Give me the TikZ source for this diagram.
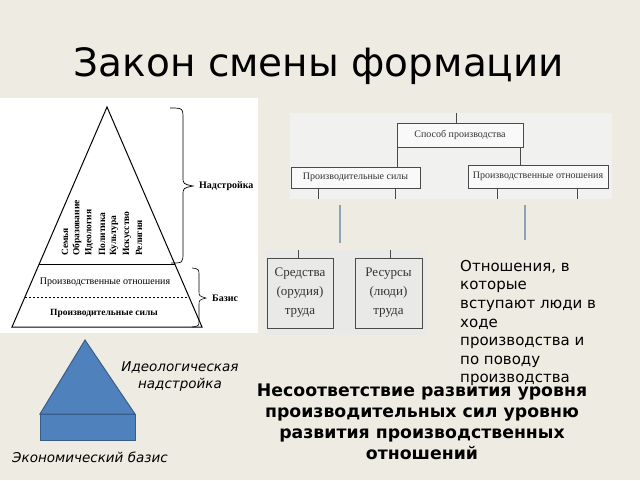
\documentclass[tikz,border=0pt]{standalone}
\usepackage{fontspec}
\setmainfont{DejaVu Sans}
\newfontfamily\scanfont{Liberation Serif}
\usetikzlibrary{calc}
\definecolor{bg}{HTML}{EDEBE2}
\definecolor{scanbg}{HTML}{F1F1F0}
\definecolor{scanbgb}{HTML}{E9E9E8}
\definecolor{scanline}{HTML}{4A4A4A}
\definecolor{steel}{HTML}{8EA4B6}
\definecolor{blfill}{HTML}{4F81BD}
\definecolor{bldraw}{HTML}{385D8A}
\tikzset{
  pyr/.style={draw=black, line width=1pt},
  scanbox/.style={draw=scanline, line width=0.9pt, fill=white!60!scanbg, inner sep=0pt, font=\scanfont\fontsize{10}{11}\selectfont, text=black!80},
  scanbox2/.style={draw=scanline, line width=1pt, inner sep=0pt, align=center, font=\scanfont\fontsize{13}{19}\selectfont, text=black!80},
  vword/.style={rotate=90, anchor=west, inner sep=0pt, font=\scanfont\bfseries\fontsize{9.5}{10}\selectfont},
  scantext/.style={inner sep=0pt, font=\scanfont\fontsize{10}{11}\selectfont},
  conn/.style={draw=scanline, line width=0.8pt},
  steelline/.style={draw=steel, line width=1.6pt},
  body/.style={inner sep=0pt, font=\fontsize{15}{18.6}\selectfont},
  ital/.style={inner sep=0pt, font=\itshape\fontsize{13.5}{17}\selectfont}
}
\begin{document}
\begin{tikzpicture}[x=1pt,y=-1pt]
\path[use as bounding box, fill=bg] (0,0) rectangle (640,480);

% title
\node[anchor=base, inner sep=0pt, font=\fontsize{39}{47}\selectfont] (title) at (319,76) {Закон смены формации};

% ---- left scanned pyramid ----
\fill[white] (0,98) rectangle (258,333);
\coordinate (apex) at (107,107);
\coordinate (bl) at (12,327);
\coordinate (br) at (202,327);
\draw[pyr] (apex) -- (bl) -- (br) -- cycle;
\coordinate (hl) at ($(apex)!0.718!(bl)$);
\coordinate (hr) at ($(apex)!0.718!(br)$);
\draw[pyr] (hl) -- (hr);
\coordinate (dl) at ($(apex)!0.8636!(bl)$);
\coordinate (dr) at ($(apex)!0.8636!(br)$);
\draw[black, line width=0.8pt, dash pattern=on 2.5pt off 1.5pt] (dl) -- (dr);
\node[vword] (w1) at (65,256) {Семья};
\node[vword] (w2) at (77,256) {Образование};
\node[vword] (w3) at (89,256) {Идеология};
\node[vword] (w4) at (102,256) {Политика};
\node[vword] (w5) at (114,256) {Культура};
\node[vword] (w6) at (127,256) {Искусство};
\node[vword] (w7) at (139,256) {Религия};
\node[scantext] (pot) at (105,282) {Производственные отношения};
\node[scantext, font=\scanfont\bfseries\fontsize{9.5}{11}\selectfont] (ps) at (104,313) {Производительные силы};
% braces
\draw[black, line width=0.7pt] (170,108) .. controls (183,108) .. (183,120) -- (183,176)
  .. controls (183,184) .. (193,186) .. controls (183,188) .. (183,196) -- (183,252)
  .. controls (183,263) .. (171,263);
\draw[black, line width=0.6pt] (192,268) .. controls (199,269) .. (199,276) -- (199,291)
  .. controls (199,296) .. (206,298) .. controls (199,300) .. (199,305) -- (199,320)
  .. controls (199,326) .. (192,327);
\node[scantext, font=\scanfont\bfseries\fontsize{10}{11}\selectfont, anchor=west] (nad) at (199,186) {Надстройка};
\node[scantext, font=\scanfont\bfseries\fontsize{10}{11}\selectfont, anchor=west] (baz) at (212,298) {Базис};

% ---- top-right scanned scheme ----
\fill[scanbg] (290,113) rectangle (612,199);
\node[scanbox, minimum width=126pt, minimum height=24pt] (sposob) at (460,135) {Способ производства};
\node[scanbox, minimum width=129pt, minimum height=21pt] (psily) at (355.5,177.5) {Производительные силы};
\node[scanbox, minimum width=140pt, minimum height=23pt] (potn) at (538,176.5) {Производственные отношения};
\coordinate (topend) at (456,113);
\draw[conn] (topend) -- (topend |- sposob.north);
\draw[conn] (sposob.south west) ++(1,0) coordinate (sl) -- (sl |- psily.north);
\draw[conn] (sposob.south east) ++(-3,0) coordinate (sr) -- (sr |- potn.north);
\coordinate (b1) at (318,199);
\coordinate (b2) at (395,199);
\coordinate (b3) at (497,199);
\coordinate (b4) at (577,199);
\draw[conn] (b1) -- (b1 |- psily.south);
\draw[conn] (b2) -- (b2 |- psily.south);
\draw[conn] (b3) -- (b3 |- potn.south);
\draw[conn] (b4) -- (b4 |- potn.south);

% steel connector lines
\coordinate (g1t) at (340,205);
\coordinate (g1b) at (340,243);
\coordinate (g2t) at (525,205);
\coordinate (g2b) at (525,240);
\draw[steelline] (g1t) -- (g1b);
\draw[steelline] (g2t) -- (g2b);

% ---- second scanned image ----
\fill[scanbgb] (265,250) rectangle (425,335);
\node[scanbox2, minimum width=66pt, minimum height=70pt] (sred) at (300,293) {Средства\\(орудия)\\труда};
\node[scanbox2, minimum width=67pt, minimum height=70pt] (res) at (388.5,293) {Ресурсы\\(люди)\\труда};
\coordinate (s1) at (298,250);
\coordinate (s2) at (390,250);
\draw[conn] (s1) -- (s1 |- sred.north);
\draw[conn] (s2) -- (s2 |- res.north);

% ---- right text ----
\node[body, anchor=north west, align=left] (otn) at (460,260) {Отношения, в\\которые\\вступают люди в\\ходе\\производства и\\по поводу\\производства};

\node[inner sep=0pt, align=center, font=\bfseries\fontsize{17.3}{21}\selectfont, anchor=north] (nesoot) at (422,384) {Несоответствие развития уровня\\производительных сил уровню\\развития производственных\\отношений};

% ---- blue pyramid ----
\coordinate (ba) at (85,340);
\coordinate (bbl) at (40,414);
\coordinate (bbr) at (135,414);
\coordinate (bbot) at (135,440);
\filldraw[fill=blfill, draw=bldraw, line width=1pt] (ba) -- (bbr) -- (bbl) -- cycle;
\filldraw[fill=blfill, draw=bldraw, line width=1pt] (bbl) rectangle (bbot);
\node[ital, align=center, anchor=north] (ideo) at (180,361) {Идеологическая\\надстройка};
\node[ital, anchor=base west] (econ) at (12,462) {Экономический базис};
\end{tikzpicture}
\end{document}
